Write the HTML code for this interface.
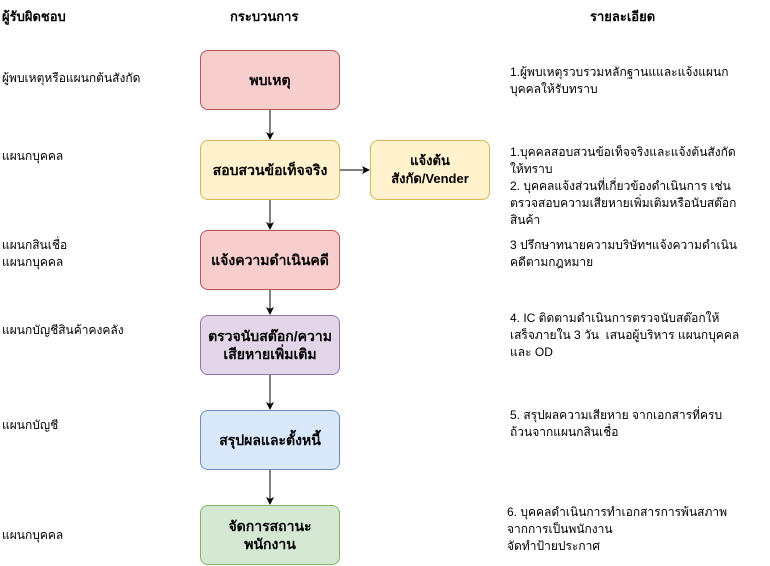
<!DOCTYPE html>
<html><head><meta charset="utf-8"><style>
body{margin:0;width:770px;height:566px;background:#fff;position:relative;font-family:"Liberation Sans","DejaVu Sans",sans-serif;font-size:12px;color:#000;overflow:hidden}
.t{position:absolute;white-space:nowrap;line-height:17px}
.b{font-weight:bold;font-size:13px}
.box{position:absolute;box-sizing:border-box;width:140px;height:60px;border:1px solid;border-radius:8px;display:flex;align-items:center;justify-content:center;text-align:center;font-size:14px;font-weight:bold;line-height:18px}
svg{position:absolute;left:0;top:0}
</style></head><body>
<div class="t b" style="left:2px;top:8px">ผู้รับผิดชอบ</div>
<div class="t b" style="left:230px;top:8px">กระบวนการ</div>
<div class="t b" style="left:590px;top:8px">รายละเอียด</div>

<div class="box" style="left:200px;top:50px;background:#f8cecc;border-color:#b85450">พบเหตุ</div>
<div class="box" style="left:200px;top:140px;background:#fff2cc;border-color:#d6b656">สอบสวนข้อเท็จจริง</div>
<div class="box" style="left:370px;top:140px;width:120px;background:#fff2cc;border-color:#d6b656;font-size:13px">แจ้งต้น<br>สังกัด/Vender</div>
<div class="box" style="left:200px;top:230px;background:#f8cecc;border-color:#b85450">แจ้งความดำเนินคดี</div>
<div class="box" style="left:200px;top:315px;background:#e1d5e7;border-color:#9673a6">ตรวจนับสต๊อก/ความ<br>เสียหายเพิ่มเติม</div>
<div class="box" style="left:200px;top:410px;background:#dae8fc;border-color:#6c8ebf">สรุปผลและตั้งหนี้</div>
<div class="box" style="left:200px;top:505px;background:#d5e8d4;border-color:#82b366">จัดการสถานะ<br>พนักงาน</div>

<svg width="770" height="566">
<defs><marker id="a" markerWidth="8" markerHeight="8" refX="7" refY="4" orient="auto" markerUnits="userSpaceOnUse"><path d="M0,0L8,4L0,8L2,4z" fill="#000"/></marker></defs>
<g stroke="#000" stroke-width="1" marker-end="url(#a)">
<line x1="270" y1="110" x2="270" y2="139"/>
<line x1="270" y1="200" x2="270" y2="229"/>
<line x1="270" y1="290" x2="270" y2="314"/>
<line x1="270" y1="375" x2="270" y2="409"/>
<line x1="270" y1="470" x2="270" y2="504"/>
<line x1="340" y1="170" x2="369" y2="170"/>
</g></svg>

<div class="t" style="left:2px;top:70px">ผู้พบเหตุหรือแผนกต้นสังกัด</div>
<div class="t" style="left:2px;top:148px">แผนกบุคคล</div>
<div class="t" style="left:2px;top:237px">แผนกสินเชื่อ<br>แผนกบุคคล</div>
<div class="t" style="left:2px;top:322px">แผนกบัญชีสินค้าคงคลัง</div>
<div class="t" style="left:2px;top:417px">แผนกบัญชี</div>
<div class="t" style="left:2px;top:527px">แผนกบุคคล</div>

<div class="t" style="left:510px;top:64px">1.ผู้พบเหตุรวบรวมหลักฐานแและแจ้งแผนก<br>บุคคลให้รับทราบ</div>
<div class="t" style="left:510px;top:144px">1.บุคคลสอบสวนข้อเท็จจริงและแจ้งต้นสังกัด<br>ให้ทราบ<br>2. บุคคลแจ้งส่วนที่เกี่ยวข้องดำเนินการ เช่น<br>ตรวจสอบความเสียหายเพิ่มเติมหรือนับสต๊อก<br>สินค้า</div>
<div class="t" style="left:510px;top:237px">3 ปรึกษาทนายความบริษัทฯแจ้งความดำเนิน<br>คดีตามกฎหมาย</div>
<div class="t" style="left:510px;top:310px">4. IC ติดตามดำเนินการตรวจนับสต๊อกให้<br>เสร็จภายใน 3 วัน&nbsp; เสนอผู้บริหาร แผนกบุคคล<br>และ OD</div>
<div class="t" style="left:510px;top:407px">5. สรุปผลความเสียหาย จากเอกสารที่ครบ<br>ถ้วนจากแผนกสินเชื่อ</div>
<div class="t" style="left:507px;top:504px">6. บุคคลดำเนินการทำเอกสารการพ้นสภาพ<br>จากการเป็นพนักงาน<br>จัดทำป้ายประกาศ</div>
</body></html>
